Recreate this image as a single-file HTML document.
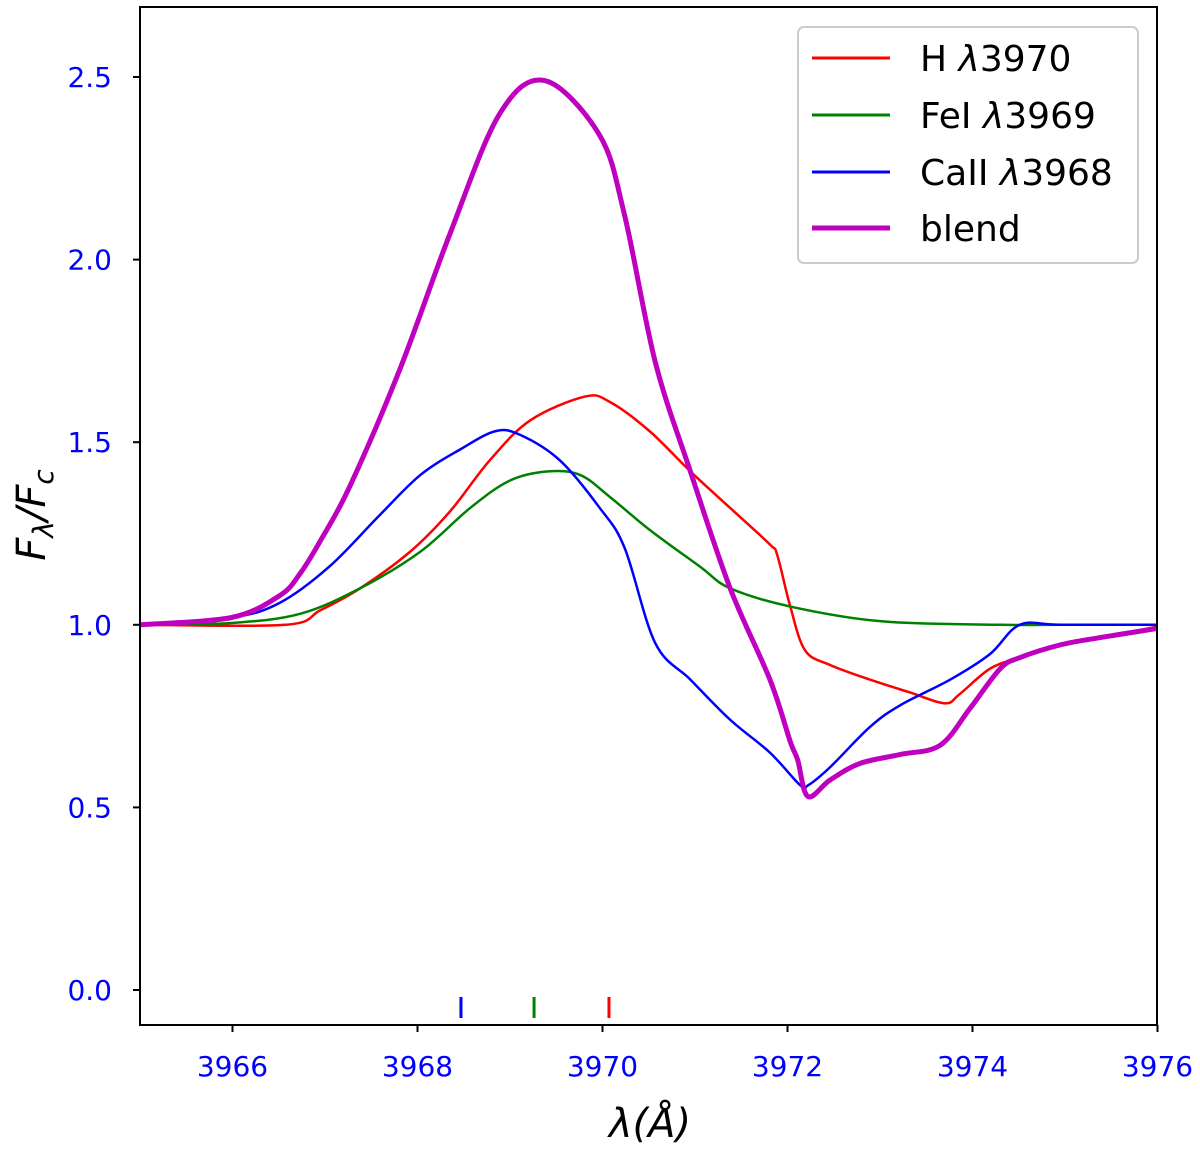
<!DOCTYPE html>
<html><head><meta charset="utf-8"><style>
body{margin:0;background:#fff;}
svg text{font-family:"DejaVu Sans","Liberation Sans",sans-serif;}
</style></head><body>
<svg id="chart" width="1200" height="1149" xmlns="http://www.w3.org/2000/svg">
<g id="ticks"></g>
<g id="lines"></g>
<rect x="140" y="7" width="1017" height="1018" fill="none" stroke="#000" stroke-width="2"/>
<text x="650" y="1137" font-size="40" text-anchor="middle" font-style="italic">λ(Å)</text>
<text transform="translate(45,515) rotate(-90)" font-size="40" text-anchor="middle" font-style="italic">F<tspan font-size="28" dy="8">λ</tspan><tspan dy="-8">/F</tspan><tspan font-size="28" dy="8">c</tspan></text>
<g>
<rect x="798" y="27" width="340" height="236" rx="6" fill="#fff" stroke="#ccc" stroke-width="2"/>
<g><line x1="812" y1="58" x2="890" y2="58" stroke="#ff0000" stroke-width="3"/><text x="920" y="71" font-size="36">H <tspan font-style="italic">λ</tspan>3970</text></g>
<g><line x1="812" y1="115" x2="890" y2="115" stroke="#008000" stroke-width="3"/><text x="920" y="128" font-size="36">FeI <tspan font-style="italic">λ</tspan>3969</text></g>
<g><line x1="812" y1="172" x2="890" y2="172" stroke="#0000ff" stroke-width="3"/><text x="920" y="185" font-size="36">CaII <tspan font-style="italic">λ</tspan>3968</text></g>
<g><line x1="812" y1="228" x2="890" y2="228" stroke="#bf00bf" stroke-width="5"/><text x="920" y="241" font-size="36">blend</text></g>
</g>
</svg>
<script>
const xTicks=[3966,3968,3970,3972,3974,3976];
const yTicks=[0.0,0.5,1.0,1.5,2.0,2.5];
const lineCenters=[3968.47,3969.26,3970.07];
const centerColors=["#0000ff","#008000","#ff0000"];
const hX=[0,1.57,1.95,2.38,2.92,3.35,3.78,4.22,4.81,5.08,5.51,5.95,6.38,6.81,6.89,7.03,7.19,7.46,7.89,8.32,8.7,8.86,9.19,9.51,9.95,10.38,11];
const hY=[1.0,1.0,1.04,1.10,1.20,1.31,1.45,1.56,1.625,1.61,1.53,1.42,1.32,1.22,1.19,1.05,0.93,0.89,0.85,0.815,0.785,0.81,0.88,0.91,0.945,0.965,0.995];
const feX=[0,0.99,1.73,2.38,3.03,3.57,4.0,4.41,4.76,5.08,5.51,6.05,6.38,7.03,8.0,9.3,9.95,11];
const feY=[1.0,1.005,1.03,1.10,1.20,1.32,1.395,1.42,1.41,1.35,1.26,1.16,1.10,1.05,1.01,1.0,1.0,1.0];
const caX=[0,0.99,1.51,2.05,2.59,3.03,3.46,3.84,4.11,4.54,4.97,5.24,5.57,5.95,6.38,6.81,7.14,7.22,7.46,7.89,8.22,8.76,9.19,9.51,9.95,11];
const caY=[1.0,1.02,1.06,1.16,1.30,1.41,1.48,1.53,1.52,1.45,1.32,1.21,0.95,0.85,0.74,0.65,0.56,0.56,0.61,0.72,0.78,0.85,0.92,1.0,1.0,1.0];
const blX=[0,0.99,1.51,1.73,1.95,2.27,2.81,3.35,3.89,4.38,4.97,5.24,5.57,5.95,6.38,6.81,7.03,7.11,7.22,7.46,7.78,8.22,8.65,8.97,9.3,9.51,9.95,10.38,11];
const blY=[1.0,1.02,1.08,1.14,1.23,1.38,1.70,2.07,2.40,2.49,2.34,2.12,1.72,1.42,1.10,0.85,0.68,0.63,0.53,0.575,0.62,0.645,0.67,0.77,0.88,0.91,0.945,0.965,0.99];
const X=v=>140+(v-3965)*92.5;
const Y=v=>990-v*365.2;
const NS="http://www.w3.org/2000/svg";
const tg=document.getElementById('ticks'), lg=document.getElementById('lines');
function mk(t,a,p){const e=document.createElementNS(NS,t);for(const k in a)e.setAttribute(k,a[k]);p.appendChild(e);return e;}
xTicks.forEach(t=>{
 const l=mk('line',{x1:X(t),x2:X(t),y1:1025,y2:1032,stroke:'#000','stroke-width':2},tg);
 
 
 const s=mk('text',{x:X(t),y:1076,'font-size':28,fill:'#0000ff','text-anchor':'middle'},tg);s.textContent=t;
 
 
});
yTicks.forEach(t=>{
 const l=mk('line',{x1:133,x2:140,y1:Y(t),y2:Y(t),stroke:'#000','stroke-width':2},tg);
 
 
 const s=mk('text',{x:112,y:Y(t)+10,'font-size':28,fill:'#0000ff','text-anchor':'end'},tg);s.textContent=t.toFixed(1);
 
 
});
lineCenters.forEach((c,i)=>{
 const l=mk('line',{x1:X(c),x2:X(c),y1:997,y2:1018,stroke:centerColors[i],'stroke-width':3},tg);
 
 
});
function path(xs,ys){
 const p=xs.map((x,i)=>[X(3965+x),Y(ys[i])]);
 let d='M'+p[0][0]+','+p[0][1];
 for(let i=0;i<p.length-1;i++){
  const p0=p[Math.max(0,i-1)],p1=p[i],p2=p[i+1],p3=p[Math.min(p.length-1,i+2)];
  const c1=[p1[0]+(p2[0]-p0[0])/6,p1[1]+(p2[1]-p0[1])/6];
  const c2=[p2[0]-(p3[0]-p1[0])/6,p2[1]-(p3[1]-p1[1])/6];
  d+=` C${c1[0]},${c1[1]} ${c2[0]},${c2[1]} ${p2[0]},${p2[1]}`;
 }
 return d;
}
[[hX,hY,'#ff0000',2.5,'series-h'],[feX,feY,'#008000',2.5,'series-fei'],[caX,caY,'#0000ff',2.5,'series-caii'],[blX,blY,'#bf00bf',5,'series-blend']].forEach(s=>{
 const e=mk('path',{d:path(s[0],s[1]),fill:'none',stroke:s[2],'stroke-width':s[3],'stroke-linejoin':'round'},lg);
 
 
});
</script>
</body></html>
